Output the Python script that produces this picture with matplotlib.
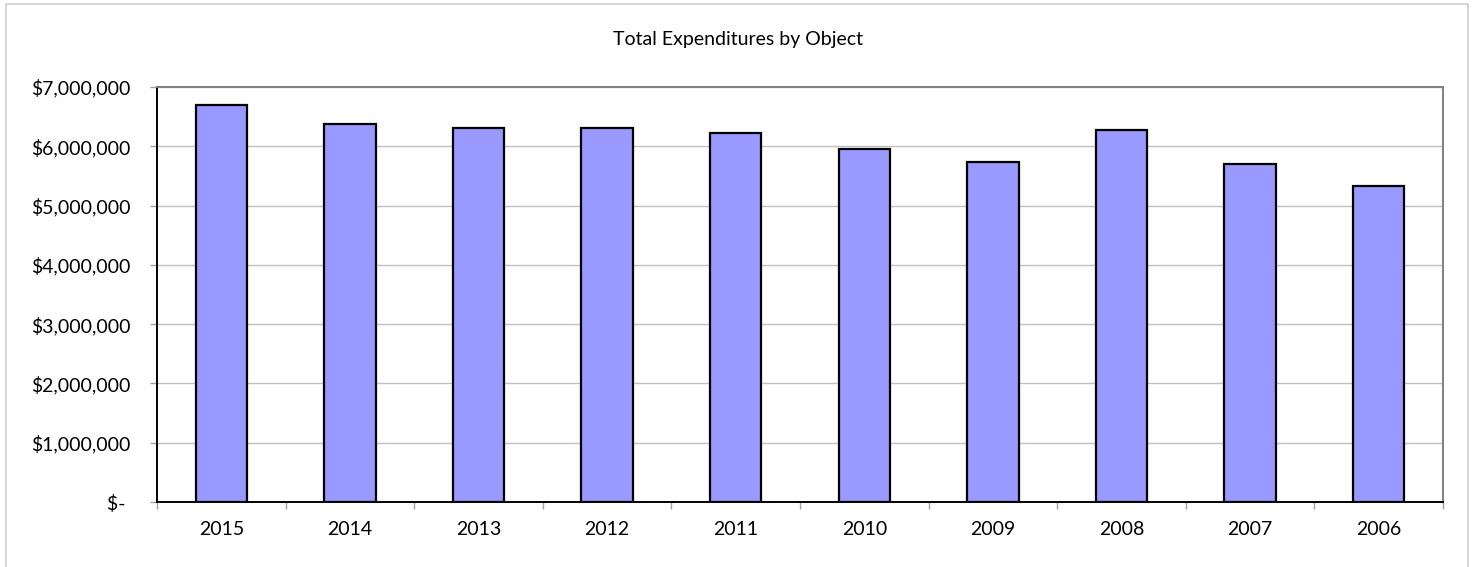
import matplotlib.pyplot as plt
import matplotlib.patches as patches
from matplotlib.ticker import FuncFormatter

years = ["2015", "2014", "2013", "2012", "2011", "2010", "2009", "2008", "2007", "2006"]
expenditures = [6690000, 6370000, 6300000, 6310000, 6220000, 5960000, 5740000, 6270000, 5700000, 5330000]

plt.rcParams["font.family"] = ["Lato", "DejaVu Sans"]


def dollars(v, pos):
    if v == 0:
        return "$- "
    return "${:,.0f}".format(v)


fig = plt.figure(figsize=(14.76, 5.67), dpi=100)
ax = fig.add_axes([0.1064, 0.1146, 0.8712, 0.732])

# chart frame
fig.patches.append(patches.Rectangle((6 / 1476, -0.05), 1462 / 1476, 1.05 - 4 / 567,
                                     transform=fig.transFigure, fill=False,
                                     edgecolor="#d0d0d0", linewidth=1.2))

x = range(len(years))
ax.bar(x, expenditures, width=0.4, color="#9999ff", edgecolor="black", linewidth=1.6, zorder=3)

ax.set_xlim(-0.5, len(years) - 0.5)
ax.set_ylim(0, 7000000)
ax.set_yticks(range(0, 7000001, 1000000))
ax.yaxis.set_major_formatter(FuncFormatter(dollars))
ax.grid(axis="y", color="#c0c0c0", linewidth=1.0, zorder=0)

ax.set_xticks(list(x))
ax.set_xticklabels(years)
ax.set_xticks([i - 0.5 for i in range(len(years) + 1)], minor=True)
ax.tick_params(axis="x", which="major", length=0, pad=14, labelsize=14)
ax.tick_params(axis="x", which="minor", length=5, color="#a0a0a0", width=1)
ax.tick_params(axis="y", length=5, color="#a0a0a0", width=1, pad=14, labelsize=14)

ax.spines["left"].set_color("black")
ax.spines["bottom"].set_color("black")
ax.spines["top"].set_color("#808080")
ax.spines["right"].set_color("#808080")
for s in ax.spines.values():
    s.set_linewidth(1.4)

fig.text(0.5, 1 - 40 / 567, "Total Expenditures by Object", ha="center", va="center", fontsize=14)

fig.savefig("out.png", dpi=100)
